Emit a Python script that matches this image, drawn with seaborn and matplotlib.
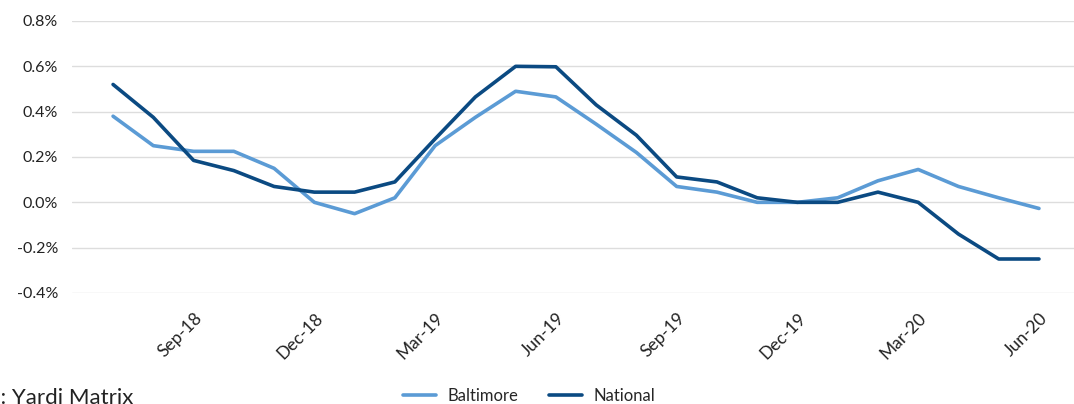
import pandas as pd
import seaborn as sns
import matplotlib.pyplot as plt
from matplotlib.lines import Line2D

months = ["Jul-18", "Aug-18", "Sep-18", "Oct-18", "Nov-18", "Dec-18",
          "Jan-19", "Feb-19", "Mar-19", "Apr-19", "May-19", "Jun-19",
          "Jul-19", "Aug-19", "Sep-19", "Oct-19", "Nov-19", "Dec-19",
          "Jan-20", "Feb-20", "Mar-20", "Apr-20", "May-20", "Jun-20"]
baltimore = [0.38, 0.25, 0.225, 0.225, 0.15, 0.0, -0.05, 0.02, 0.25, 0.375,
             0.49, 0.465, 0.345, 0.22, 0.07, 0.045, 0.0, 0.0, 0.02, 0.095,
             0.145, 0.07, 0.02, -0.027]
national = [0.52, 0.375, 0.185, 0.14, 0.07, 0.045, 0.045, 0.09, 0.28, 0.465,
            0.60, 0.598, 0.43, 0.296, 0.112, 0.09, 0.02, 0.0, 0.0, 0.045,
            0.0, -0.14, -0.25, -0.25]
tick_months = ["Sep-18", "Dec-18", "Mar-19", "Jun-19", "Sep-19", "Dec-19",
               "Mar-20", "Jun-20"]
y_ticks = [-0.4, -0.2, 0.0, 0.2, 0.4, 0.6, 0.8]

LIGHT = "#5b9bd5"
DARK = "#0b4a82"

df = pd.DataFrame({"idx": range(len(months)), "Baltimore": baltimore,
                   "National": national})
long = df.melt(id_vars="idx", var_name="series", value_name="value")

sns.set_style("white")
plt.rcParams["font.family"] = ["Lato", "DejaVu Sans"]

fig = plt.figure(figsize=(10.74, 4.04), dpi=100)
ax = fig.add_axes([72 / 1074, 1 - 293 / 404, 1002 / 1074, 272 / 404])

sns.lineplot(data=long, x="idx", y="value", hue="series",
             palette={"Baltimore": LIGHT, "National": DARK},
             linewidth=2.6, ax=ax, legend=False)

ax.set_xlim(-1.02, 23.87)
ax.set_ylim(-0.4, 0.8)
ax.set_yticks(y_ticks)
ax.set_yticklabels([f"{v:.1f}%" for v in y_ticks], fontsize=11.5,
                   color="#222222")
ax.yaxis.grid(True, color="#dddddd", linewidth=1)
ax.set_axisbelow(True)
for s in ax.spines.values():
    s.set_visible(False)

ax.set_xticks([months.index(m) for m in tick_months])
ax.set_xticklabels(tick_months, rotation=45, ha="right",
                   rotation_mode="anchor", fontsize=12.5, color="#222222")
ax.tick_params(axis="both", length=0)
ax.tick_params(axis="x", pad=12)
ax.tick_params(axis="y", pad=10)
ax.set_xlabel("")
ax.set_ylabel("")

# legend at bottom centre
handles = [Line2D([], [], color=LIGHT, linewidth=2.6),
           Line2D([], [], color=DARK, linewidth=2.6)]
fig.legend(handles, ["Baltimore", "National"], loc="center",
           bbox_to_anchor=(529 / 1074, 1 - 396 / 404), ncol=2, frameon=False,
           fontsize=12, handlelength=2.0, columnspacing=1.8,
           handletextpad=0.7)

fig.text(133 / 1074, 1 - 388 / 404, "Source: Yardi Matrix", ha="right",
         va="top", fontsize=16, color="#222222")

fig.savefig("out.png", dpi=100)
